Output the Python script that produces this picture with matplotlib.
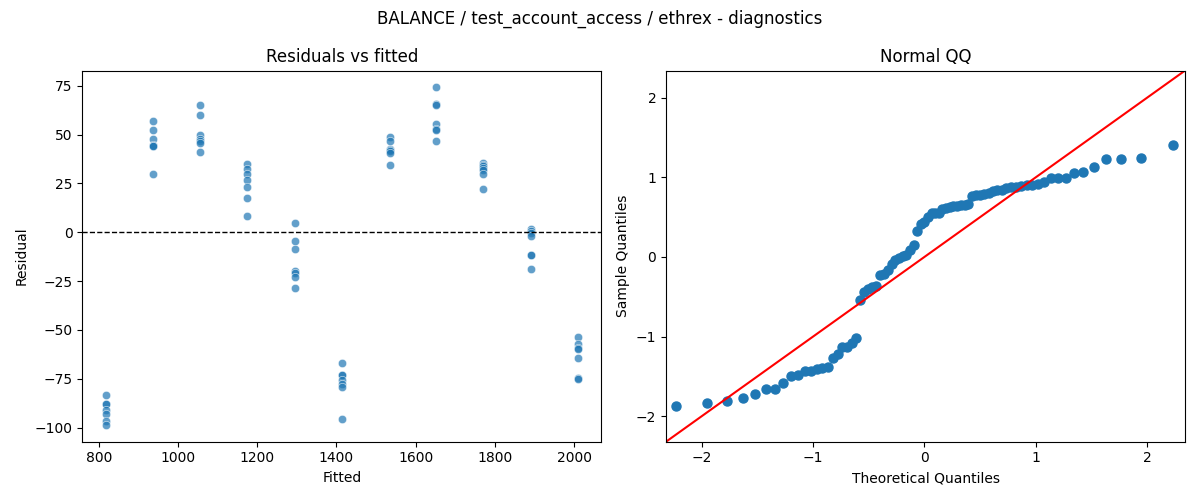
import matplotlib
matplotlib.use("Agg")
import matplotlib.pyplot as plt
import numpy as np
import seaborn as sns
from statistics import NormalDist

# fitted value of each group and the 7 residuals
fitted_levels = [818, 937, 1056, 1175, 1296, 1415, 1535, 1652, 1771, 1890, 2009]
resid_groups = [
    [-83.5, -87.8, -87.8, -91.0, -93.2, -96.6, -98.6],
    [56.8, 52.2, 47.6, 44.6, 44.3, 44.0, 29.6],
    [64.9, 59.8, 49.6, 47.6, 46.6, 45.7, 41.3],
    [34.9, 32.5, 29.6, 26.5, 23.0, 17.3, 8.2],
    [4.8, -4.6, -8.7, -19.7, -20.9, -23.0, -28.6],
    [-66.8, -72.9, -73.3, -75.7, -77.9, -79.1, -95.4],
    [48.8, 46.6, 42.8, 42.2, 41.5, 40.3, 34.2],
    [74.1, 65.5, 65.1, 55.6, 52.7, 52.3, 46.9],
    [35.2, 34.5, 34.0, 33.0, 32.1, 29.6, 21.9],
    [1.5, 0.5, -0.5, -1.7, -11.4, -11.8, -18.9],
    [-53.6, -57.0, -59.3, -59.7, -64.6, -74.5, -75.3],
]

fitted = np.repeat(fitted_levels, [len(g) for g in resid_groups])
resid = np.concatenate(resid_groups)

# qq values (standardised residuals vs normal quantiles)
n = len(resid)
theo = np.array([NormalDist().inv_cdf(i / (n + 1)) for i in range(1, n + 1)])
sample = np.sort((resid - resid.mean()) / resid.std())

fig, (ax1, ax2) = plt.subplots(1, 2, figsize=(12, 5))

sns.scatterplot(x=fitted, y=resid, alpha=0.7, ax=ax1)
ax1.axhline(0, color="black", linestyle="--", linewidth=1)
ax1.set_title("Residuals vs fitted")
ax1.set_xlabel("Fitted")
ax1.set_ylabel("Residual")

ax2.plot(theo, sample, "o", color="C0", markersize=6.5)
lim = (-2.32, 2.34)
ax2.plot(lim, lim, "r-")
ax2.set_xlim(lim)
ax2.set_ylim(lim)
ax2.set_title("Normal QQ")
ax2.set_xlabel("Theoretical Quantiles")
ax2.set_ylabel("Sample Quantiles")

fig.suptitle("BALANCE / test_account_access / ethrex - diagnostics")
fig.tight_layout()
fig.savefig("out.png", dpi=100)
